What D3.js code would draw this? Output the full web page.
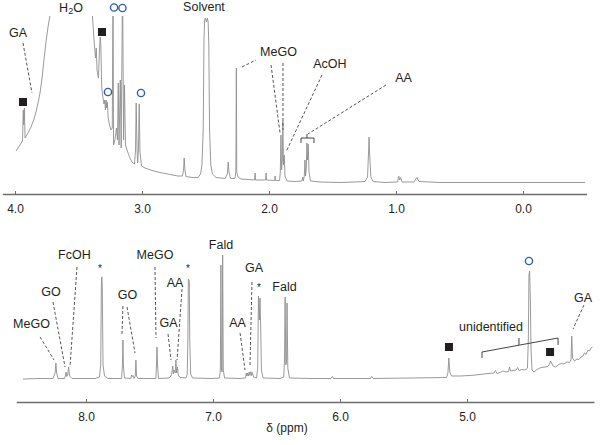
<!DOCTYPE html>
<html><head><meta charset="utf-8">
<script src="https://cdn.jsdelivr.net/npm/d3@7"></script>
<style>body{margin:0;background:#fff} svg{display:block} text{font-family:"Liberation Sans",Arial,Helvetica,sans-serif;fill:#231f20}</style>
</head><body><svg id="c" width="601" height="445"></svg>
<script>
// ---------- DATA (chemical shift in ppm, intensity in arbitrary units) ----------
const topTicks = [4, 3, 2, 1, 0];
const bottomTicks = [8, 7, 6, 5];

const topSpectrum = [[3.992,34],[3.961,40],[3.941,44],[3.935,75],[3.931,60],[3.926,77],[3.921,47],[3.898,52],[3.874,58],[3.850,66],[3.835,73],[3.819,82],[3.803,92],[3.787,107],[3.772,125],[3.756,143],[3.740,158],[3.724,170],[3.701,215],[3.409,215],[3.390,169],[3.378,145],[3.366,127],[3.360,137],[3.354,115],[3.343,107],[3.335,135],[3.329,148],[3.324,140],[3.317,97],[3.307,87],[3.299,81],[3.293,85],[3.288,75],[3.283,85],[3.278,77],[3.273,83],[3.266,67],[3.256,60],[3.244,55],[3.234,57],[3.228,205],[3.224,40],[3.213,45],[3.201,57],[3.193,45],[3.187,102],[3.181,40],[3.171,105],[3.164,37],[3.153,205],[3.145,45],[3.138,100],[3.130,40],[3.118,35],[3.098,28],[3.079,23],[3.059,21],[3.051,35],[3.046,82],[3.039,35],[3.034,22],[3.028,35],[3.022,81],[3.016,33],[3.004,19],[2.976,17],[2.921,14.5],[2.858,12.5],[2.780,10.5],[2.717,9],[2.681,9],[2.673,15],[2.668,27],[2.662,15],[2.654,8.5],[2.606,7.5],[2.559,7.5],[2.539,11],[2.528,20],[2.518,55],[2.512,145],[2.507,165],[2.501,167],[2.493,163],[2.485,167],[2.479,163],[2.474,140],[2.468,55],[2.458,20],[2.445,11],[2.417,7.5],[2.346,6.5],[2.328,11],[2.321,23],[2.315,13],[2.303,6.5],[2.268,6.5],[2.261,13],[2.257,117],[2.254,13],[2.244,8],[2.220,6],[2.165,5.5],[2.113,5],[2.109,12],[2.106,5],[2.027,5],[2.023,12],[2.019,5],[1.956,4.5],[1.952,9],[1.948,4.5],[1.917,4.5],[1.911,13],[1.906,50],[1.901,15],[1.895,25],[1.891,64],[1.886,20],[1.880,30],[1.874,9],[1.858,4],[1.795,3.5],[1.740,4],[1.734,8],[1.729,4],[1.722,9],[1.717,25],[1.712,9],[1.706,17],[1.702,42],[1.697,25],[1.691,41],[1.685,13],[1.673,4],[1.598,3],[1.441,2.5],[1.323,3],[1.244,3.5],[1.224,8],[1.217,30],[1.212,48],[1.207,30],[1.198,8],[1.181,3.5],[1.087,2.5],[0.988,3],[0.979,9],[0.971,5],[0.963,7.5],[0.953,3],[0.858,3],[0.836,7.5],[0.819,3.5],[0.654,2.5],[0.181,2.5],[-0.488,2.5]];

const bottomSpectrum = [[8.496,1],[8.362,1.5],[8.260,1.5],[8.243,7],[8.237,17],[8.231,7],[8.220,1.5],[8.169,1.5],[8.161,5],[8.157,8],[8.152,3.5],[8.145,5],[8.137,13],[8.129,4],[8.110,1.5],[7.929,1.5],[7.894,3],[7.884,15],[7.879,95],[7.876,103],[7.872,95],[7.866,15],[7.854,4],[7.827,1.5],[7.720,1.5],[7.713,15],[7.709,40],[7.706,15],[7.697,2],[7.647,1.5],[7.641,5],[7.635,3.5],[7.630,4.5],[7.622,1.5],[7.612,4],[7.607,20],[7.602,4],[7.591,1.5],[7.450,1.5],[7.445,15],[7.441,33],[7.437,15],[7.429,1.5],[7.346,2],[7.331,4],[7.323,8],[7.317,14],[7.312,6],[7.306,10],[7.298,7],[7.292,20],[7.287,7],[7.280,13],[7.274,5],[7.260,2.5],[7.213,2],[7.203,6],[7.198,40],[7.194,101],[7.187,99],[7.183,40],[7.176,6],[7.161,2],[7.008,1.5],[6.949,2],[6.942,10],[6.938,115],[6.933,10],[6.928,8],[6.924,125],[6.919,10],[6.909,2],[6.787,1.5],[6.744,2],[6.738,7],[6.733,4],[6.728,7],[6.722,4],[6.715,8],[6.709,4.5],[6.702,8.5],[6.696,4.5],[6.690,7.5],[6.681,3],[6.657,2],[6.648,12],[6.642,84],[6.635,60],[6.630,82],[6.624,50],[6.619,10],[6.606,2],[6.472,1.5],[6.443,3],[6.437,20],[6.432,83],[6.427,15],[6.421,18],[6.417,77],[6.411,12],[6.398,2],[6.236,1.5],[6.071,1.5],[6.061,3.5],[6.050,1.5],[5.843,1.5],[5.760,1.5],[5.750,3.5],[5.739,1.5],[5.449,2],[5.161,2.5],[5.150,7],[5.143,22],[5.135,8],[5.122,4],[5.055,4],[4.976,4.5],[4.898,5.5],[4.835,6.5],[4.787,7],[4.776,9.5],[4.764,6.5],[4.740,7.5],[4.717,9],[4.693,8],[4.673,8.5],[4.665,13],[4.657,9],[4.638,9.5],[4.614,10],[4.601,12.5],[4.591,9.5],[4.567,10.5],[4.543,10],[4.524,12],[4.517,40],[4.512,105],[4.507,109],[4.501,80],[4.496,30],[4.488,10],[4.472,8],[4.449,10.5],[4.417,12.5],[4.386,13],[4.362,13.5],[4.350,16],[4.342,19],[4.334,17],[4.323,14],[4.303,13],[4.283,15],[4.260,16.5],[4.236,16],[4.213,18],[4.193,17.5],[4.181,20],[4.175,44],[4.169,22],[4.154,19],[4.134,21],[4.118,20.5],[4.102,23],[4.087,24],[4.075,27],[4.063,25.5],[4.047,30],[4.035,29],[4.024,32],[4.012,33]];

// annotation labels: text, shift, height
const topLabelText   = ["GA", "H2O", "Solvent", "MeGO", "AcOH", "AA"];
const topLabelShift  = [3.976, 3.559, 2.512, 1.925, 1.520, 0.941];
const topLabelHeight = [152, 177, 178, 133, 121.5, 107];

const bottomLabelText   = ["MeGO", "GO", "FcOH", "*", "GO", "MeGO", "AA", "GA", "*", "Fald", "GA", "*", "Fald", "AA", "unidentified", "GA"];
const bottomLabelShift  = [8.429, 8.276, 8.091, 7.890, 7.673, 7.457, 7.299, 7.350, 7.197, 6.937, 6.677, 6.638, 6.437, 6.807, 4.811, 4.087];
const bottomLabelHeight = [56, 88, 125, 112, 85, 125, 97, 57, 112, 135, 112, 93, 93, 57, 53, 82];

// dashed leader lines: [shift1, height1, shift2, height2]
const topLeaders = [[3.937,142,3.866,92],[2.213,118,2.102,125],[1.984,120,1.913,52],[1.890,122,1.890,55],[1.583,110,1.866,33],[1.079,100,1.693,51]];
const bottomLeaders = [[8.362,43,8.252,20],[8.260,78,8.165,13],[8.071,113,8.126,13],[7.709,74,7.717,45],[7.677,73,7.614,27],[7.457,113,7.449,42],[7.354,46,7.331,20],[7.244,91,7.283,20],[6.787,47,6.748,10],[6.693,98,6.709,13],[4.079,75,4.165,51]];

// brackets (polyline vertices) and their centre ticks
const topBracket = [[1.748,42],[1.748,47],[1.646,47],[1.646,42]];
const topBracketTick = [[1.701,47],[1.701,51]];
const bottomBracket = [[4.882,22],[4.882,28],[4.283,42],[4.283,35]];
const bottomBracketTick = [[4.591,35],[4.591,42]];

// markers: filled squares and open circles
const topSquares = [[3.937,83],[3.315,153]];
const topCircles = [[3.220,177.5],[3.154,177],[3.268,93],[3.008,92]];
const bottomSquares = [[5.142,33],[4.346,28]];
const bottomCircles = [[4.512,119]];

// ---------- DRAWING ----------
const svg = d3.select("#c");
const xTop = d3.scaleLinear().domain([4.1, -0.5]).range([2.3, 586.5]);
const yTop = d3.scaleLinear().domain([0, 170]).range([185, 15]);
const xBot = d3.scaleLinear().domain([8.55, 4.0]).range([16.15, 594]);
const yBot = d3.scaleLinear().domain([0, 150]).range([380, 230]);

const specColor = "#8e8e8e", axisColor = "#6e6e6e", blue = "#2b5fb4", ink = "#231f20";

svg.append("defs").append("clipPath").attr("id","clipTop")
  .append("rect").attr("x",0).attr("y",16).attr("width",601).attr("height",180);

function drawPanel(x, y, spectrum, ticks, axisY, clip) {
  const line = d3.line().x(d => x(d[0])).y(d => y(d[1]));
  const p = svg.append("path").datum(spectrum).attr("d", line)
    .attr("fill","none").attr("stroke",specColor).attr("stroke-width",0.9)
    .attr("stroke-linejoin","round");
  if (clip) p.attr("clip-path","url(#"+clip+")");
  const ax = d3.axisBottom(x).tickValues(ticks).tickFormat(d3.format(".1f"))
    .tickSizeInner(-3).tickSizeOuter(0).tickPadding(10);
  const g = svg.append("g").attr("transform","translate(0,"+axisY+")").call(ax);
  g.select(".domain").attr("stroke",axisColor).attr("stroke-width",1.3);
  g.selectAll(".tick line").attr("stroke",axisColor).attr("stroke-width",1);
  g.selectAll(".tick text").attr("font-size",12).attr("fill",ink)
    .attr("font-family","'Liberation Sans',Arial,sans-serif");
}
drawPanel(xTop, yTop, topSpectrum, topTicks, 194, "clipTop");
drawPanel(xBot, yBot, bottomSpectrum, bottomTicks, 402, null);

function leaders(x, y, arr) {
  svg.append("g").selectAll("line").data(arr).join("line")
    .attr("x1", d => x(d[0])).attr("y1", d => y(d[1]))
    .attr("x2", d => x(d[2])).attr("y2", d => y(d[3]))
    .attr("stroke","#555").attr("stroke-width",1).attr("stroke-dasharray","3,2");
}
leaders(xTop, yTop, topLeaders);
leaders(xBot, yBot, bottomLeaders);

function bracket(x, y, pts, tick) {
  const l = d3.line().x(d => x(d[0])).y(d => y(d[1]));
  svg.append("path").attr("d", l(pts)).attr("fill","none").attr("stroke","#444").attr("stroke-width",1);
  svg.append("path").attr("d", l(tick)).attr("fill","none").attr("stroke","#444").attr("stroke-width",1);
}
bracket(xTop, yTop, topBracket, topBracketTick);
bracket(xBot, yBot, bottomBracket, bottomBracketTick);

function markers(x, y, squares, circles) {
  svg.append("g").selectAll("rect").data(squares).join("rect")
    .attr("x", d => x(d[0]) - 4).attr("y", d => y(d[1]) - 4)
    .attr("width", 8).attr("height", 8).attr("fill", ink);
  svg.append("g").selectAll("circle").data(circles).join("circle")
    .attr("cx", d => x(d[0])).attr("cy", d => y(d[1])).attr("r", 3.6)
    .attr("fill","none").attr("stroke", blue).attr("stroke-width", 1.4);
}
markers(xTop, yTop, topSquares, topCircles);
markers(xBot, yBot, bottomSquares, bottomCircles);

function labels(x, y, texts, shifts, heights) {
  texts.forEach((t, i) => {
    const tx = svg.append("text")
      .attr("x", x(shifts[i])).attr("y", y(heights[i]))
      .attr("text-anchor","middle").attr("dominant-baseline","central")
      .attr("font-size", t === "*" ? 10 : 12.5);
    if (t === "H2O") {
      tx.append("tspan").text("H");
      tx.append("tspan").text("2").attr("font-size", 9).attr("dy", 3);
      tx.append("tspan").text("O").attr("dy", -3);
    } else tx.text(t);
  });
}
labels(xTop, yTop, topLabelText, topLabelShift, topLabelHeight);
labels(xBot, yBot, bottomLabelText, bottomLabelShift, bottomLabelHeight);

svg.append("text").attr("x", 287).attr("y", 428)
  .attr("text-anchor","middle").attr("dominant-baseline","central")
  .attr("font-size", 12).text("δ (ppm)");
</script></body></html>
